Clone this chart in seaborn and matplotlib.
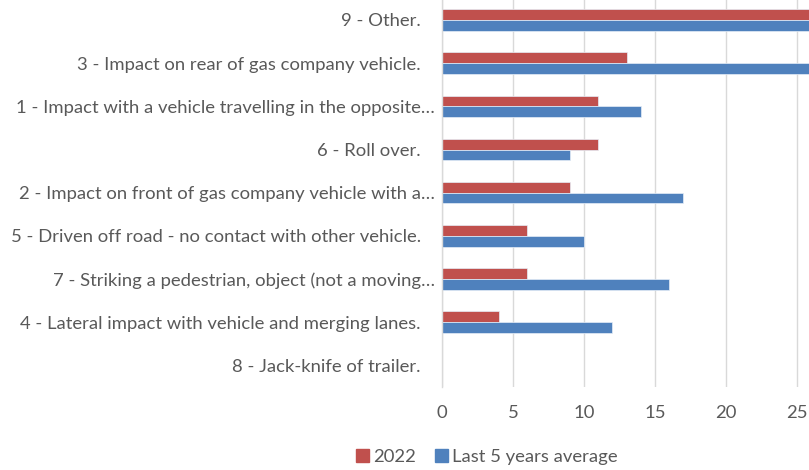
import pandas as pd
import matplotlib
matplotlib.use("Agg")
import matplotlib.pyplot as plt
import seaborn as sns

# ==========================================
# DATA (bars past 25 are cut by the crop)
# ==========================================

categories = [
    "9 - Other.   ",
    "3 - Impact on rear of gas company vehicle.   ",
    "1 - Impact with a vehicle travelling in the opposite\u2026",
    "6 - Roll over.   ",
    "2 - Impact on front of gas company vehicle with a\u2026",
    "5 - Driven off road - no contact with other vehicle.   ",
    "7 - Striking a pedestrian, object (not a moving\u2026",
    "4 - Lateral impact with vehicle and merging lanes.   ",
    "8 - Jack-knife of trailer.   ",
]
values_2022 = [30, 13, 11, 11, 9, 6, 6, 4, 0]
values_5yr = [28, 27, 14, 9, 17, 10, 16, 12, 0]
series = ["2022", "Last 5 years average"]

df = pd.DataFrame({
    "Cause": categories * 2,
    "Count": values_2022 + values_5yr,
    "Series": [series[0]] * len(categories) + [series[1]] * len(categories),
})

# ==========================================
# PLOT
# ==========================================

sns.set_style("white")
plt.rcParams["font.family"] = ["Lato", "DejaVu Sans"]

text_col = "#595959"
grid_col = "#D9D9D9"
colors = ["#C0504D", "#4F81BD"]
fs = 13.3

fig = plt.figure(figsize=(8.09, 4.70), dpi=100)
ax = fig.add_axes([442 / 809, 1 - 387 / 470, (809 - 442) / 809, (387 + 1.6) / 470])

sns.barplot(
    data=df, x="Count", y="Cause", hue="Series",
    order=categories, hue_order=series,
    palette=colors, saturation=1,
    width=0.5, orient="h", ax=ax,
    edgecolor="#E6EEF7", linewidth=0.5,
)

ax.set_xlim(0, 25.85)
ax.set_ylim(8.5, -0.5)
ax.set_xticks([0, 5, 10, 15, 20, 25])
ax.xaxis.grid(True, color=grid_col, linewidth=1)
ax.set_axisbelow(True)
for s in ["top", "right", "bottom"]:
    ax.spines[s].set_visible(False)
ax.spines["left"].set_color(grid_col)
ax.spines["left"].set_linewidth(1)

ax.set_xlabel("")
ax.set_ylabel("")
ax.tick_params(axis="x", length=0, pad=13, labelsize=fs, labelcolor=text_col)
ax.tick_params(axis="y", length=0, pad=5, labelsize=fs, labelcolor=text_col)

ax.legend_.remove()
handles = [plt.Rectangle((0, 0), 1, 1, color=c) for c in colors]
fig.legend(
    handles, series, loc="center", bbox_to_anchor=(487 / 809, 1 - 457 / 470),
    ncol=2, frameon=False, fontsize=fs, labelcolor=text_col,
    handlelength=0.7, handleheight=0.7, handletextpad=0.25, columnspacing=1.0,
)

plt.savefig("out.png", dpi=100)
